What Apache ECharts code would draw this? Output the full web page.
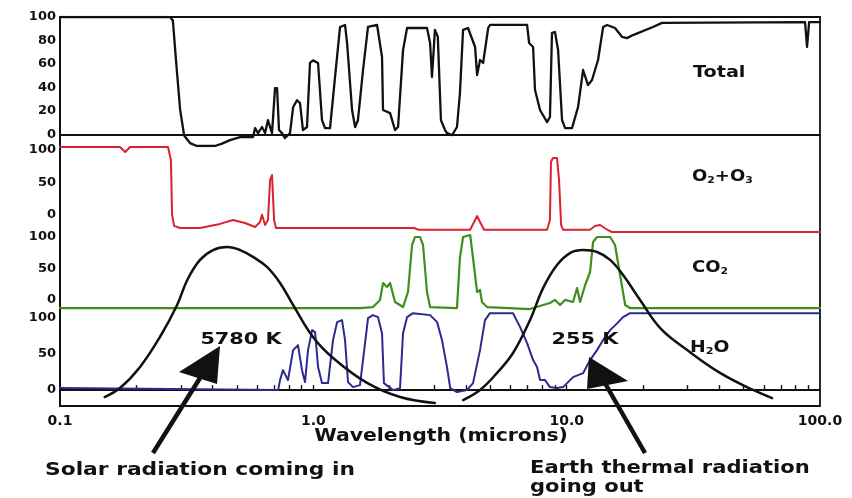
<!DOCTYPE html>
<html><head><meta charset="utf-8">
<script src="https://cdn.jsdelivr.net/npm/echarts@6/dist/echarts.min.js"></script>
<style>html,body{margin:0;padding:0;background:#fff}#c{width:852px;height:498px}</style>
</head><body><div id="c"></div>
<script>
// ---- data (wavelength in microns, value in panel units) ----
const xTickLabels = [0.1, 1, 10, 100];
const xMinorTicks = [0.2,0.3,0.4,0.5,0.6,0.7,0.8,0.9,1,2,3,4,5,6,7,8,9,10,20,30,40,50,60,70,80,90];
const totalTicks = [0, 20, 40, 60, 80, 100];
const gasTicks = [0, 50, 100];

const totalCurve = [[0.1,100],[0.272,100],[0.279,97],[0.287,63],[0.298,21],[0.309,-1],[0.326,-7.5],[0.347,-10],[0.409,-10],[0.436,-8],[0.469,-5],[0.514,-2.4],[0.578,-2.4],[0.589,5.3],[0.605,1],[0.627,6.2],[0.645,1],[0.662,12],[0.687,1],[0.706,39.4],[0.719,39.4],[0.732,3.6],[0.752,1],[0.773,-3.2],[0.809,1],[0.832,23],[0.862,29],[0.886,26.6],[0.910,3.6],[0.944,6.2],[0.970,60.8],[0.997,63],[1.044,60.8],[1.082,12],[1.112,5.3],[1.164,5.3],[1.218,48.8],[1.275,91.5],[1.334,93.2],[1.359,77.8],[1.422,20.7],[1.462,6.2],[1.50,12],[1.571,54.8],[1.644,91.5],[1.785,93.2],[1.867,65.9],[1.884,20.7],[2.009,18],[2.101,3.6],[2.160,6.2],[2.26,71.8],[2.344,90.6],[2.81,90.6],[2.89,77.8],[2.94,48.8],[3.02,89],[3.10,83],[3.19,12],[3.31,3.6],[3.37,1],[3.53,-0.7],[3.69,6.2],[3.79,35],[3.90,89],[4.08,90.6],[4.35,74.4],[4.43,50.5],[4.55,63.3],[4.68,60.8],[4.90,90.6],[4.98,93.2],[6.98,93.2],[7.11,77.8],[7.37,74.4],[7.50,37.7],[7.85,20.7],[8.37,10.4],[8.59,14.7],[8.75,86.4],[8.99,87.2],[9.25,71.8],[9.59,12],[9.86,5.3],[10.5,5.3],[11.09,23.2],[11.61,54.8],[12.14,42],[12.59,46.3],[13.30,63.3],[13.93,91.5],[14.44,93.2],[15.52,90.6],[16.56,83],[17.30,82],[18.28,84.6],[21.9,91.5],[23.8,95],[87.3,95.7],[88.9,74.4],[90.6,95.7],[100,95.7]];

const ozoneCurve = [[0.1,104.5],[0.1725,104.5],[0.181,96.8],[0.189,104.5],[0.267,104.5],[0.274,84.4],[0.277,0],[0.282,-17],[0.298,-20.3],[0.357,-20.3],[0.428,-14],[0.482,-8],[0.537,-12.6],[0.589,-18.8],[0.616,-11],[0.627,0],[0.645,-15.7],[0.662,-8],[0.675,53.6],[0.687,61.3],[0.700,-8],[0.712,-20.3],[2.5,-20.3],[2.6,-23],[4.16,-23],[4.31,-11],[4.43,-1.9],[4.55,-11],[4.72,-23],[8.37,-23],[8.59,-8],[8.67,81.3],[8.83,87.5],[9.16,87.5],[9.33,53.6],[9.51,-15.7],[9.68,-23],[12.37,-23],[12.94,-17.3],[13.55,-15.7],[14.32,-21.9],[15.1,-26.5],[100,-26.5]];

const co2Curve = [[0.1,-12.9],[1.528,-12.9],[1.72,-11.3],[1.834,0],[1.884,26.8],[1.954,20.4],[2.009,26.8],[2.101,-3.3],[2.26,-11.3],[2.364,12.5],[2.453,87],[2.521,99.7],[2.637,99.7],[2.71,87],[2.81,12.5],[2.89,-11.3],[3.69,-12.9],[3.79,66.4],[3.90,99.7],[4.16,102.8],[4.27,66.4],[4.43,12.5],[4.55,15.7],[4.63,-3.3],[4.85,-11.3],[7.17,-14.5],[8.07,-8.1],[8.59,-4.9],[8.99,0],[9.42,-8.1],[9.86,0],[10.6,-3.3],[10.99,18.8],[11.3,-3.3],[11.83,23.6],[12.37,44.2],[12.71,91.7],[13.18,99.7],[14.84,99.7],[15.52,87],[16.25,39.4],[17.02,-8.1],[17.78,-12.9],[100,-12.9]];

const h2oCurve = [[0.1,2.8],[0.726,0],[0.739,13.9],[0.759,27.7],[0.794,13.9],[0.832,55.4],[0.870,62.3],[0.902,27.7],[0.927,11.1],[0.953,55.4],[0.989,83.1],[1.016,80.3],[1.044,31.9],[1.082,9.7],[1.143,9.7],[1.196,69.3],[1.241,94.2],[1.298,97],[1.334,69.3],[1.371,11.1],[1.435,4.2],[1.528,6.9],[1.60,65.1],[1.644,99.7],[1.72,103.9],[1.80,101.1],[1.867,78.9],[1.90,9.7],[2.064,0],[2.199,2.8],[2.26,78.9],[2.344,101.1],[2.475,106.6],[2.89,103.9],[3.08,94.2],[3.22,69.3],[3.37,31.9],[3.47,2.8],[3.69,-2.8],[4.04,0],[4.27,9.7],[4.55,55.4],[4.76,97],[4.98,106.6],[6.14,106.6],[6.55,87.3],[6.98,65.1],[7.37,41.6],[7.64,31.9],[7.85,13.9],[8.22,13.9],[8.59,4.2],[9.16,2.8],[9.68,4.2],[10.6,18],[11.61,23.5],[12.37,41.6],[13.18,55.4],[13.93,69.3],[14.84,83.1],[15.81,92.5],[16.7,101.1],[17.78,106.6],[100,106.6]];

const sun5780K = [[0.150,5.1],[0.1725,10.2],[0.207,22.2],[0.248,39.2],[0.290,57.4],[0.318,71.6],[0.357,83],[0.402,88.6],[0.456,90.3],[0.514,88.6],[0.578,84.7],[0.656,79],[0.739,69.9],[0.832,57.4],[0.997,39.2],[1.196,27.3],[1.63,13.1],[2.20,5.1],[3.02,1.7]];
const earth255K = [[3.90,3.4],[4.55,9.1],[5.31,18.8],[6.14,30.1],[7.17,48.9],[8.07,67],[9.16,80.1],[10.31,86.9],[11.61,88.6],[13.18,87.5],[14.84,83],[16.7,74.4],[19.49,60.2],[23.4,44.3],[29.9,31.8],[40.3,18.8],[54.4,9.1],[64.7,4.5]];

// ---- chart ----
const FONT = '"DejaVu Sans", "Liberation Sans", sans-serif';
const INK = '#111';
const L = 60, R = 32;
const grids = [
  {left:L, right:R, top:17, height:129},   // 0 Total
  {left:L, right:R, top:146, height:87},   // 1 O2+O3
  {left:L, right:R, top:233, height:77},   // 2 CO2
  {left:L, right:R, top:310, height:96},   // 3 H2O
  {left:L, right:R, top:230, height:176},  // 4 blackbody overlay
  {left:L, right:R, top:17, height:389, show:true, borderColor:INK, borderWidth:1.8, backgroundColor:'transparent'} // 5 frame
];
const yRanges = [[-10,100,totalTicks],[-28,106,gasTicks],[-16,106,gasTicks],[-22,111,gasTicks],[0,100,null],[0,1,null]];

const xAxes = grids.map((g,i)=>({
  type:'log', logBase:10, min:0.1, max:100, gridIndex:i,
  show: i===0 || i===3,
  axisLine:{show:true, lineStyle:{color:INK, width:i===0?2:1.8}},
  axisTick: i===3 ? {show:true, inside:true, length:5, customValues:xMinorTicks, lineStyle:{color:INK, width:1.4}} : {show:false},
  axisLabel: i===3 ? {show:true, customValues:xTickLabels, margin:8, color:INK,
     fontFamily:FONT, fontWeight:'bold', fontSize:14,
     formatter:v=> (v<1 ? String(v) : Number(v).toFixed(1))} : {show:false},
  splitLine:{show:false}, minorTick:{show:false}, minorSplitLine:{show:false}
}));
const yAxes = grids.map((g,i)=>({
  type:'value', gridIndex:i, min:yRanges[i][0], max:yRanges[i][1],
  show: i<4,
  axisLine:{show:true, lineStyle:{color:INK, width:1.8}},
  axisTick:{show:false}, splitLine:{show:false},
  axisLabel: yRanges[i][2] ? {show:true, customValues:yRanges[i][2], margin:4, color:INK,
     fontFamily:FONT, fontWeight:'bold', fontSize:13} : {show:false}
}));

function ser(name, data, idx, color, width, smooth){
  return {name, type:'line', xAxisIndex:idx, yAxisIndex:idx, data, showSymbol:false, symbol:'none',
    smooth: smooth||false, lineStyle:{color, width, join:'round', cap:'round'}, silent:true, animation:false, z: idx===4?5:3};
}

function txt(x, y, text, size, sx, align, extra){
  return Object.assign({type:'text', x, y, scaleX:sx, z:100,
    style:{text, fill:INK, font:'bold '+size+'px '+FONT, textAlign:align||'left', textVerticalAlign:'middle'}}, extra||{});
}
function rich(x, y, text, sx){
  return {type:'text', x, y, scaleX:sx, z:100,
    style:{text, fill:INK, textAlign:'left', textVerticalAlign:'middle',
      rich:{a:{fontFamily:FONT, fontWeight:'bold', fontSize:15, fill:INK},
            s:{fontFamily:FONT, fontWeight:'bold', fontSize:9, fill:INK, padding:[7,0,0,0]}}}};
}

const option = {
  backgroundColor:'#fff',
  animation:false,
  grid: grids,
  xAxis: xAxes,
  yAxis: yAxes,
  series: [
    ser('Total', totalCurve, 0, '#111', 2.3),
    ser('O2+O3', ozoneCurve, 1, '#d9232e', 2),
    ser('CO2', co2Curve, 2, '#3f8f1e', 2.2),
    ser('H2O', h2oCurve, 3, '#2c2a8e', 2),
    ser('5780 K', sun5780K, 4, '#111', 2.5, 0.4),
    ser('255 K', earth255K, 4, '#111', 2.5, 0.4)
  ],
  graphic: [
    txt(693, 73, 'Total', 16, 1.2),
    rich(692, 177, '{a|O}{s|2}{a|+O}{s|3}', 1.2),
    rich(692, 268, '{a|CO}{s|2}', 1.2),
    rich(690, 348, '{a|H}{s|2}{a|O}', 1.25),
    txt(241, 340, '5780 K', 16, 1.3, 'center'),
    txt(585, 340, '255 K', 16, 1.3, 'center'),
    txt(441, 437, 'Wavelength (microns)', 17, 1.2, 'center'),
    txt(45, 470, 'Solar radiation coming in', 18, 1.21),
    txt(530, 468, 'Earth thermal radiation', 18, 1.17),
    txt(530, 487, 'going out', 18, 1.17),
    {type:'line', z:100, shape:{x1:153, y1:453, x2:205, y2:370}, style:{stroke:INK, lineWidth:4.5}},
    {type:'polygon', z:100, shape:{points:[[220,346],[179,372],[217,384]]}, style:{fill:INK}},
    {type:'line', z:100, shape:{x1:645, y1:453, x2:602, y2:378}, style:{stroke:INK, lineWidth:4.5}},
    {type:'polygon', z:100, shape:{points:[[589,357],[587,389],[628,381]]}, style:{fill:INK}}
  ]
};
const chart = echarts.init(document.getElementById('c'));
chart.setOption(option);
</script></body></html>
